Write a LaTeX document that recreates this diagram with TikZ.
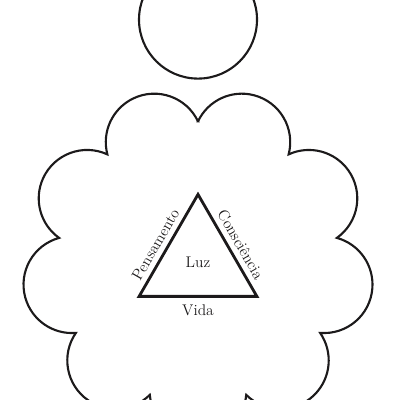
\documentclass[tikz,border=0pt]{standalone}
\usepackage{amsmath,amssymb}
\usetikzlibrary{calc,positioning}
\definecolor{ink}{HTML}{1C1A1B}
\newcommand{\body}{\fontsize{11}{13}\selectfont}
\tikzset{
 every node/.append style={font=\body,text=ink,align=center},
 outline/.style={draw=ink,line width=1.5pt,line join=miter},
 head/.style={outline,circle,inner sep=0pt,minimum size=2.95cm},
 tri/.style={draw=ink,line width=2pt,line join=miter},
 sidetext/.style={sloped,above=1.5pt,inner sep=2pt},
}

\begin{document}
\begin{tikzpicture}
\useasboundingbox (0,0) rectangle (10,10);
\clip (0,0) rectangle (10,10);

% cloud: nine lobes round the centre
\coordinate (O) at (4.95,3.44);
\pgfmathsetmacro{\cuspR}{3.525}
\pgfmathsetmacro{\lobe}{veclen(\cuspR*cos(20)-3.2,\cuspR*sin(20))}
\pgfmathsetmacro{\tilt}{atan2(\cuspR*sin(20),\cuspR*cos(20)-3.2)}
\draw[outline] ($(O)+(90:\cuspR)$)
  \foreach \a in {110,150,...,430} {
    arc[start angle=\a-\tilt,end angle=\a+\tilt,radius=\lobe]
  } -- cycle;

\node[head] (sun) at (4.95,9.51) {};

% triangle
\coordinate (apex) at ($(O)+(90:1.7)$);
\coordinate (left) at ($(O)+(210:1.7)$);
\coordinate (right) at ($(O)+(330:1.7)$);
\draw[tri] (left) -- node[sidetext,pos=.45] (thought) {Pensamento} (apex)
  -- node[sidetext,pos=.55] (mind) {Consciência} (right)
  -- node[below=1.5pt] (life) {Vida} (left) -- cycle;
\node (light) at (O) {Luz};
\end{tikzpicture}
\end{document}
